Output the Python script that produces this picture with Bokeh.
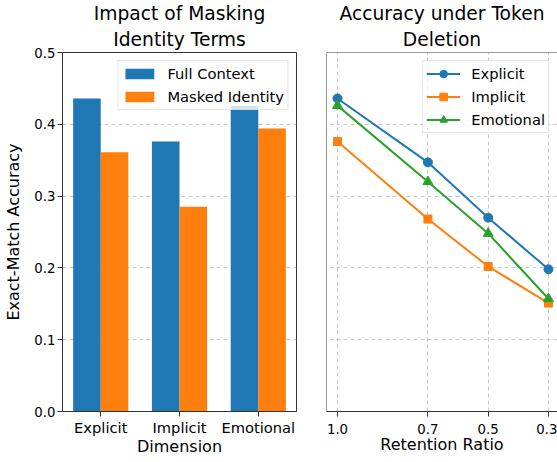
from bokeh.plotting import figure
from bokeh.layouts import row
from bokeh.models import (Range1d, FixedTicker, PrintfTickFormatter,
                          ColumnDataSource, Span, Title)
from bokeh.transform import dodge
from bokeh.embed import file_html
from bokeh.resources import INLINE

# ---------------- data ----------------
categories = ["Explicit", "Implicit", "Emotional"]
full_context = [0.436, 0.376, 0.426]
masked_identity = [0.361, 0.285, 0.394]

retention_ratio = [1.0, 0.7, 0.5, 0.3]
explicit_acc = [0.436, 0.347, 0.270, 0.198]
implicit_acc = [0.376, 0.268, 0.202, 0.151]
emotional_acc = [0.426, 0.320, 0.248, 0.157]

y_ticks = [0.0, 0.1, 0.2, 0.3, 0.4, 0.5]

left_title = ["Impact of Masking", "Identity Terms"]
right_title = ["Accuracy under Token", "Deletion"]

# ---------------- style ----------------
FONT = "DejaVu Sans"
BLUE, ORANGE, GREEN = "#1f77b4", "#ff7f0e", "#2ca02c"
SPINE = "#333333"
GRID = "#c8c8c8"

yr = Range1d(0, 0.5)


def base_style(p):
    for ax in p.axis:
        ax.axis_line_color = SPINE
        ax.major_tick_line_color = SPINE
        ax.minor_tick_line_color = None
        ax.major_tick_in = 0
        ax.major_tick_out = 5
        ax.major_label_text_font = FONT
        ax.major_label_text_font_size = "13.3px"
        ax.major_label_text_color = "black"
        ax.axis_label_text_font = FONT
        ax.axis_label_text_font_size = "16px"
        ax.axis_label_text_font_style = "normal"
        ax.axis_label_text_color = "black"
    p.background_fill_color = "white"
    p.border_fill_color = "white"


def add_title(p, lines):
    # the inner line is added first (it sits next to the frame)
    for txt, so in zip(reversed(lines), (5, 1)):
        p.add_layout(Title(text=txt, align="center", standoff=so,
                           text_font=FONT, text_font_size="18.7px",
                           text_font_style="normal", text_color="black"),
                     "above")


# ---------------- left: bars ----------------
p1 = figure(frame_width=234, frame_height=359,
            x_range=Range1d(-0.485, 2.485), y_range=yr,
            output_backend="svg", toolbar_location=None, title=None,
            min_border_left=62, min_border_right=14,
            min_border_top=51, min_border_bottom=52)
base_style(p1)
p1.outline_line_color = SPINE

src = ColumnDataSource(dict(pos=list(range(len(categories))),
                            full=full_context, masked=masked_identity))
p1.vbar(x=dodge("pos", -0.175), top="full", width=0.35, source=src,
        fill_color=BLUE, line_color=None, legend_label="Full Context")
p1.vbar(x=dodge("pos", 0.175), top="masked", width=0.35, source=src,
        fill_color=ORANGE, line_color=None, legend_label="Masked Identity")

p1.xaxis.ticker = FixedTicker(ticks=list(range(len(categories))))
p1.xaxis.major_label_overrides = {i: c for i, c in enumerate(categories)}
p1.xaxis.major_label_text_font_size = "14.7px"
p1.xaxis.major_label_standoff = 2
p1.xaxis.axis_label = "Dimension"
p1.xaxis.axis_label_standoff = -2
p1.yaxis.ticker = FixedTicker(ticks=y_ticks)
p1.yaxis.formatter = PrintfTickFormatter(format="%.1f")
p1.yaxis.major_label_standoff = 2
p1.yaxis.axis_label = "Exact-Match Accuracy"
p1.yaxis.axis_label_standoff = 8
p1.xgrid.visible = False
p1.ygrid.grid_line_color = GRID
p1.ygrid.grid_line_dash = "4 3"
add_title(p1, left_title)

# ---------------- right: lines ----------------
p2 = figure(frame_width=231, frame_height=359,
            x_range=Range1d(1.0365, 0.270), y_range=yr,
            output_backend="svg", toolbar_location=None, title=None,
            min_border_left=16, min_border_right=0,
            min_border_top=51, min_border_bottom=52)
base_style(p2)
p2.outline_line_color = None
p2.yaxis.visible = False
p2.add_layout(Span(location=yr.end, dimension="width", line_color=SPINE, line_width=1))
p2.add_layout(Span(location=p2.x_range.start, dimension="height",
                   line_color=SPINE, line_width=1))

series = [("Explicit", explicit_acc, BLUE, "circle", 9),
          ("Implicit", implicit_acc, ORANGE, "square", 8),
          ("Emotional", emotional_acc, GREEN, "triangle", 10)]
for name, vals, col, mk, sz in series:
    p2.line(retention_ratio, vals, line_color=col, line_width=2, legend_label=name)
    p2.scatter(retention_ratio, vals, marker=mk, size=sz, fill_color=col,
               line_color=col, legend_label=name)

p2.xaxis.ticker = FixedTicker(ticks=retention_ratio)
p2.xaxis.formatter = PrintfTickFormatter(format="%.1f")
p2.xaxis.major_label_standoff = 7
p2.xaxis.axis_label = "Retention Ratio"
p2.xaxis.axis_label_standoff = -2
p2.xgrid.grid_line_color = GRID
p2.xgrid.grid_line_dash = "4 3"
p2.ygrid.ticker = FixedTicker(ticks=y_ticks)
p2.ygrid.grid_line_color = GRID
p2.ygrid.grid_line_dash = "4 3"
add_title(p2, right_title)

# ---------------- legends ----------------
for p, gw, gh, st in ((p1, 36, 13, 10), (p2, 34, 19, 11)):
    lg = p.legend[0]
    lg.location = "top_right"
    lg.margin = 8
    lg.padding = 3
    lg.spacing = 4
    lg.label_height = 19
    lg.glyph_height = gh
    lg.glyph_width = gw
    lg.label_standoff = st
    lg.label_text_font = FONT
    lg.label_text_font_size = "14.7px"
    lg.label_text_color = "black"
    lg.border_line_color = "#cccccc"
    lg.border_line_width = 1
    lg.background_fill_color = "white"
    lg.background_fill_alpha = 0.8

layout = row(p1, p2)
open("out.html", "w").write(file_html(layout, INLINE))
